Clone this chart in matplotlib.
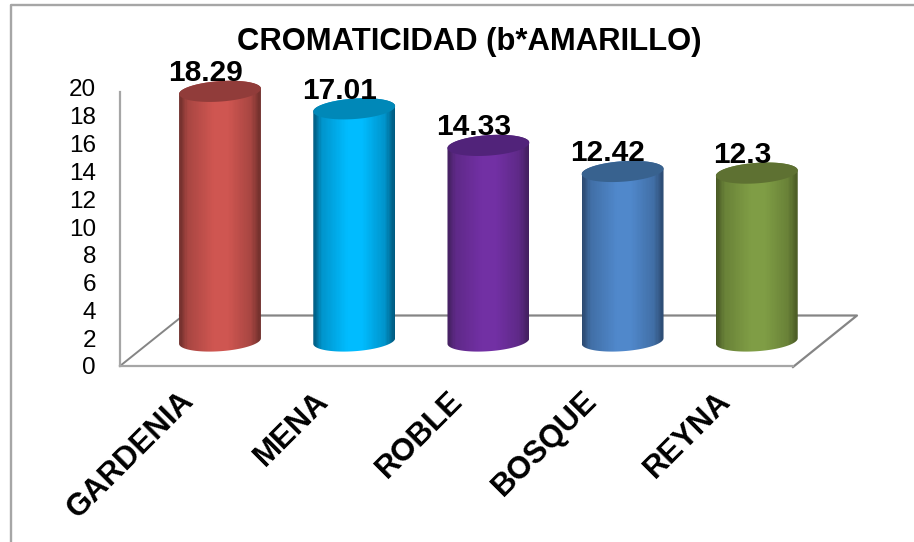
#!/usr/bin/env python3
# CROMATICIDAD (b*AMARILLO) - 3D style cylinder chart
import numpy as np
import matplotlib
matplotlib.use("Agg")
import matplotlib.pyplot as plt
from matplotlib.colors import LinearSegmentedColormap, to_rgb
from matplotlib.patches import Polygon

W, H = 914, 542

categories = ["GARDENIA", "MENA", "ROBLE", "BOSQUE", "REYNA"]
values = [18.29, 17.01, 14.33, 12.42, 12.3]
value_labels = ["18.29", "17.01", "14.33", "12.42", "12.3"]
y_ticks = [0, 2, 4, 6, 8, 10, 12, 14, 16, 18, 20]
title = "CROMATICIDAD (b*AMARILLO)"

edge_colors = ["#6f2f2c", "#005a80", "#43205f", "#2c4a70", "#4a5a25"]
mid_colors = ["#cf5651", "#00bcff", "#7230a4", "#5088cb", "#7f9d45"]
top_colors = ["#913c3a", "#0088b8", "#51237a", "#38628f", "#5e7132"]

GRAY = "#a6a6a6"
DARK_GRAY = "#858585"

plt.rcParams["font.family"] = ["Liberation Sans", "DejaVu Sans"]


def px_axes(fig, left, top, right, bottom):
    """axes placed with pixel edges, y counted from the top of the image"""
    return fig.add_axes([left / W, 1 - bottom / H, (right - left) / W, (bottom - top) / H])


def mix(a, b, k):
    a, b = np.array(to_rgb(a)), np.array(to_rgb(b))
    return tuple(a + (b - a) * k)


fig = plt.figure(figsize=(W / 100, H / 100), dpi=100)

# overlay in pixels for the frame and the floor
bg = px_axes(fig, 0, 0, W, H)
bg.set_xlim(0, W)
bg.set_ylim(H, 0)
bg.axis("off")
bg.plot([10.5, 10.5, 914], [542, 5, 5], color=GRAY, lw=1.7)
bg.plot([793, 857, 180], [367, 315.5, 315.5], color=DARK_GRAY, lw=1.6)
bg.plot([120, 180], [366, 318], color=DARK_GRAY, lw=1.4)

# front axes: value axis on the wall and the category labels
front = px_axes(fig, 119.5, 88, 793, 366)
front.set_facecolor("none")
front.set_ylim(0, 20)
front.set_xlim((119.5 - 179) / 134.2, (793 - 179) / 134.2)
for s in ["top", "right"]:
    front.spines[s].set_visible(False)
for s in ["left", "bottom"]:
    front.spines[s].set_color(GRAY)
    front.spines[s].set_linewidth(1.6)
front.spines["left"].set_bounds(0, 19.7)
front.set_yticks(y_ticks)
front.tick_params(axis="y", length=0, pad=17, labelsize=17.5, colors="black")
front.set_xticks(range(len(categories)))
front.set_xticklabels(categories, rotation=45, ha="right", va="top", rotation_mode="anchor",
                      fontsize=22.4, fontweight="bold")
front.tick_params(axis="x", length=0, pad=14)

# bars: value 0 sits on the middle of the floor
ax = px_axes(fig, 0, 0, W, H)
ax.set_facecolor("none")
ax.axis("off")
xlim = (-220 / 134.2, (W - 220) / 134.2)
ylim = ((341 - H) / 13.65, 341 / 13.65)

bar_w = 0.61
ell_h = 0.75
tilt = 0.2
t = np.linspace(0, 2 * np.pi, 120)

for i, v in enumerate(values):
    x_e = i + bar_w / 2 * np.cos(t)
    y_e = ell_h * np.sin(t) + tilt * np.cos(t)
    lower = t > np.pi
    upper = ~lower
    order = np.argsort(x_e[lower])
    xs = x_e[lower][order]
    ys = y_e[lower][order]
    order_up = np.argsort(x_e[upper])[::-1]
    xu = x_e[upper][order_up]
    yu = y_e[upper][order_up] + v
    body = Polygon(np.column_stack([np.r_[xs, xu], np.r_[ys, yu]]), closed=True,
                   transform=ax.transData, facecolor="none", edgecolor="none")
    ax.add_patch(body)
    half = mix(edge_colors[i], mid_colors[i], 0.6)
    cmap = LinearSegmentedColormap.from_list(
        "c", [(0, edge_colors[i]), (0.1, half), (0.42, mid_colors[i]), (0.6, mid_colors[i]),
              (0.88, half), (1, edge_colors[i])], N=256)
    grad = np.linspace(0, 1, 64).reshape(1, -1)
    im = ax.imshow(grad, cmap=cmap, aspect="auto", vmin=0, vmax=1, interpolation="nearest",
                   extent=(i - bar_w / 2, i + bar_w / 2, -2, v + 2), zorder=2)
    im.set_clip_path(body)
    ax.fill(x_e, y_e + v, color=top_colors[i], zorder=3, lw=0)
    ax.text(i - 0.11, v + 0.3, value_labels[i], ha="center", va="bottom", fontsize=21.5,
            fontweight="bold", color="black", zorder=4)

ax.set_xlim(*xlim)
ax.set_ylim(*ylim)

fig.text(469 / W, 1 - 42 / H, title, ha="center", va="center", fontsize=22.3, fontweight="bold")

fig.savefig("out.png", dpi=100)
